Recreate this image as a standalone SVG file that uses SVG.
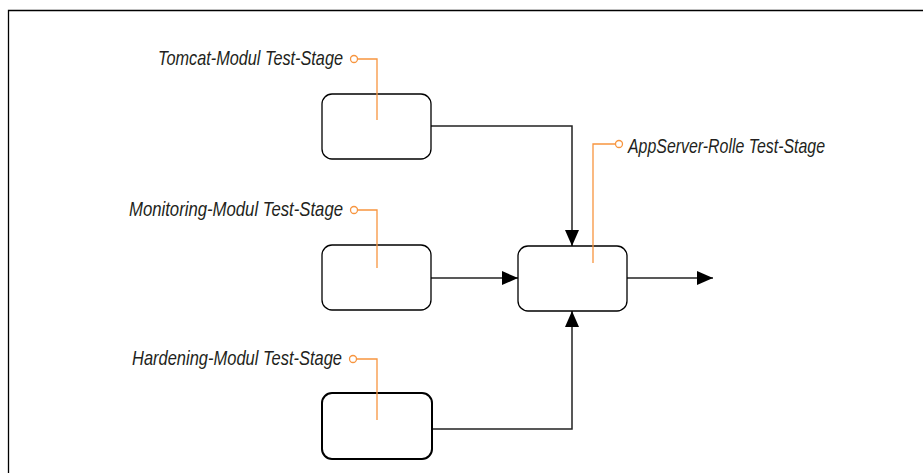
<svg xmlns="http://www.w3.org/2000/svg" width="923" height="473" viewBox="0 0 923 473">
<style>
.box{fill:#fff;stroke:#000;stroke-width:1.3}
.bold{stroke-width:2}
.conn{fill:none;stroke:#222;stroke-width:1.5}
.call{fill:none;stroke:#f7953f;stroke-width:1.3}
.dot{fill:#fff;stroke:#f7953f;stroke-width:1.3}
.lbl{font-family:"Liberation Sans Narrow","Liberation Sans",Arial,sans-serif;font-style:italic;font-size:21px;fill:#231f20}
</style>
<defs>
<marker id="arr" viewBox="0 0 16 14" refX="16" refY="7" markerWidth="16" markerHeight="14" markerUnits="userSpaceOnUse" orient="auto">
<path d="M0,0 L16,7 L0,14 Z" fill="#000"/>
</marker>
</defs>
<rect width="923" height="473" fill="#fff"/>
<path d="M8.5,473 V10.5 H923" fill="none" stroke="#000" stroke-width="1.3"/>
<g id="connectors">
<path class="conn" d="M431,126 H572 V246" marker-end="url(#arr)"/>
<path class="conn" d="M431,278 H518" marker-end="url(#arr)"/>
<path class="conn" d="M432,429 H572 V311" marker-end="url(#arr)"/>
<path class="conn" d="M627,278 H713" marker-end="url(#arr)"/>
</g>
<g id="tomcat">
<rect class="box" x="322" y="94" width="109" height="65" rx="10"/>
<path class="call" d="M357.5,59 H377 V120"/>
<circle class="dot" cx="354" cy="59" r="3.5"/>
<text class="lbl" x="158" y="65" textLength="185" lengthAdjust="spacingAndGlyphs">Tomcat-Modul Test-Stage</text>
</g>
<g id="monitoring">
<rect class="box" x="322" y="245" width="109" height="65" rx="10"/>
<path class="call" d="M357.5,210 H377 V268"/>
<circle class="dot" cx="354" cy="210" r="3.5"/>
<text class="lbl" x="129" y="216" textLength="214" lengthAdjust="spacingAndGlyphs">Monitoring-Modul Test-Stage</text>
</g>
<g id="hardening">
<rect class="box bold" x="322" y="393" width="110" height="66" rx="10"/>
<path class="call" d="M356.5,359 H377 V420"/>
<circle class="dot" cx="353" cy="359" r="3.5"/>
<text class="lbl" x="132" y="365" textLength="210" lengthAdjust="spacingAndGlyphs">Hardening-Modul Test-Stage</text>
</g>
<g id="appserver">
<rect class="box" x="518" y="246" width="109" height="65" rx="10"/>
<path class="call" d="M615.5,144 H593 V263"/>
<circle class="dot" cx="619" cy="144" r="3.5"/>
<text class="lbl" x="628" y="153" textLength="197" lengthAdjust="spacingAndGlyphs">AppServer-Rolle Test-Stage</text>
</g>
</svg>
